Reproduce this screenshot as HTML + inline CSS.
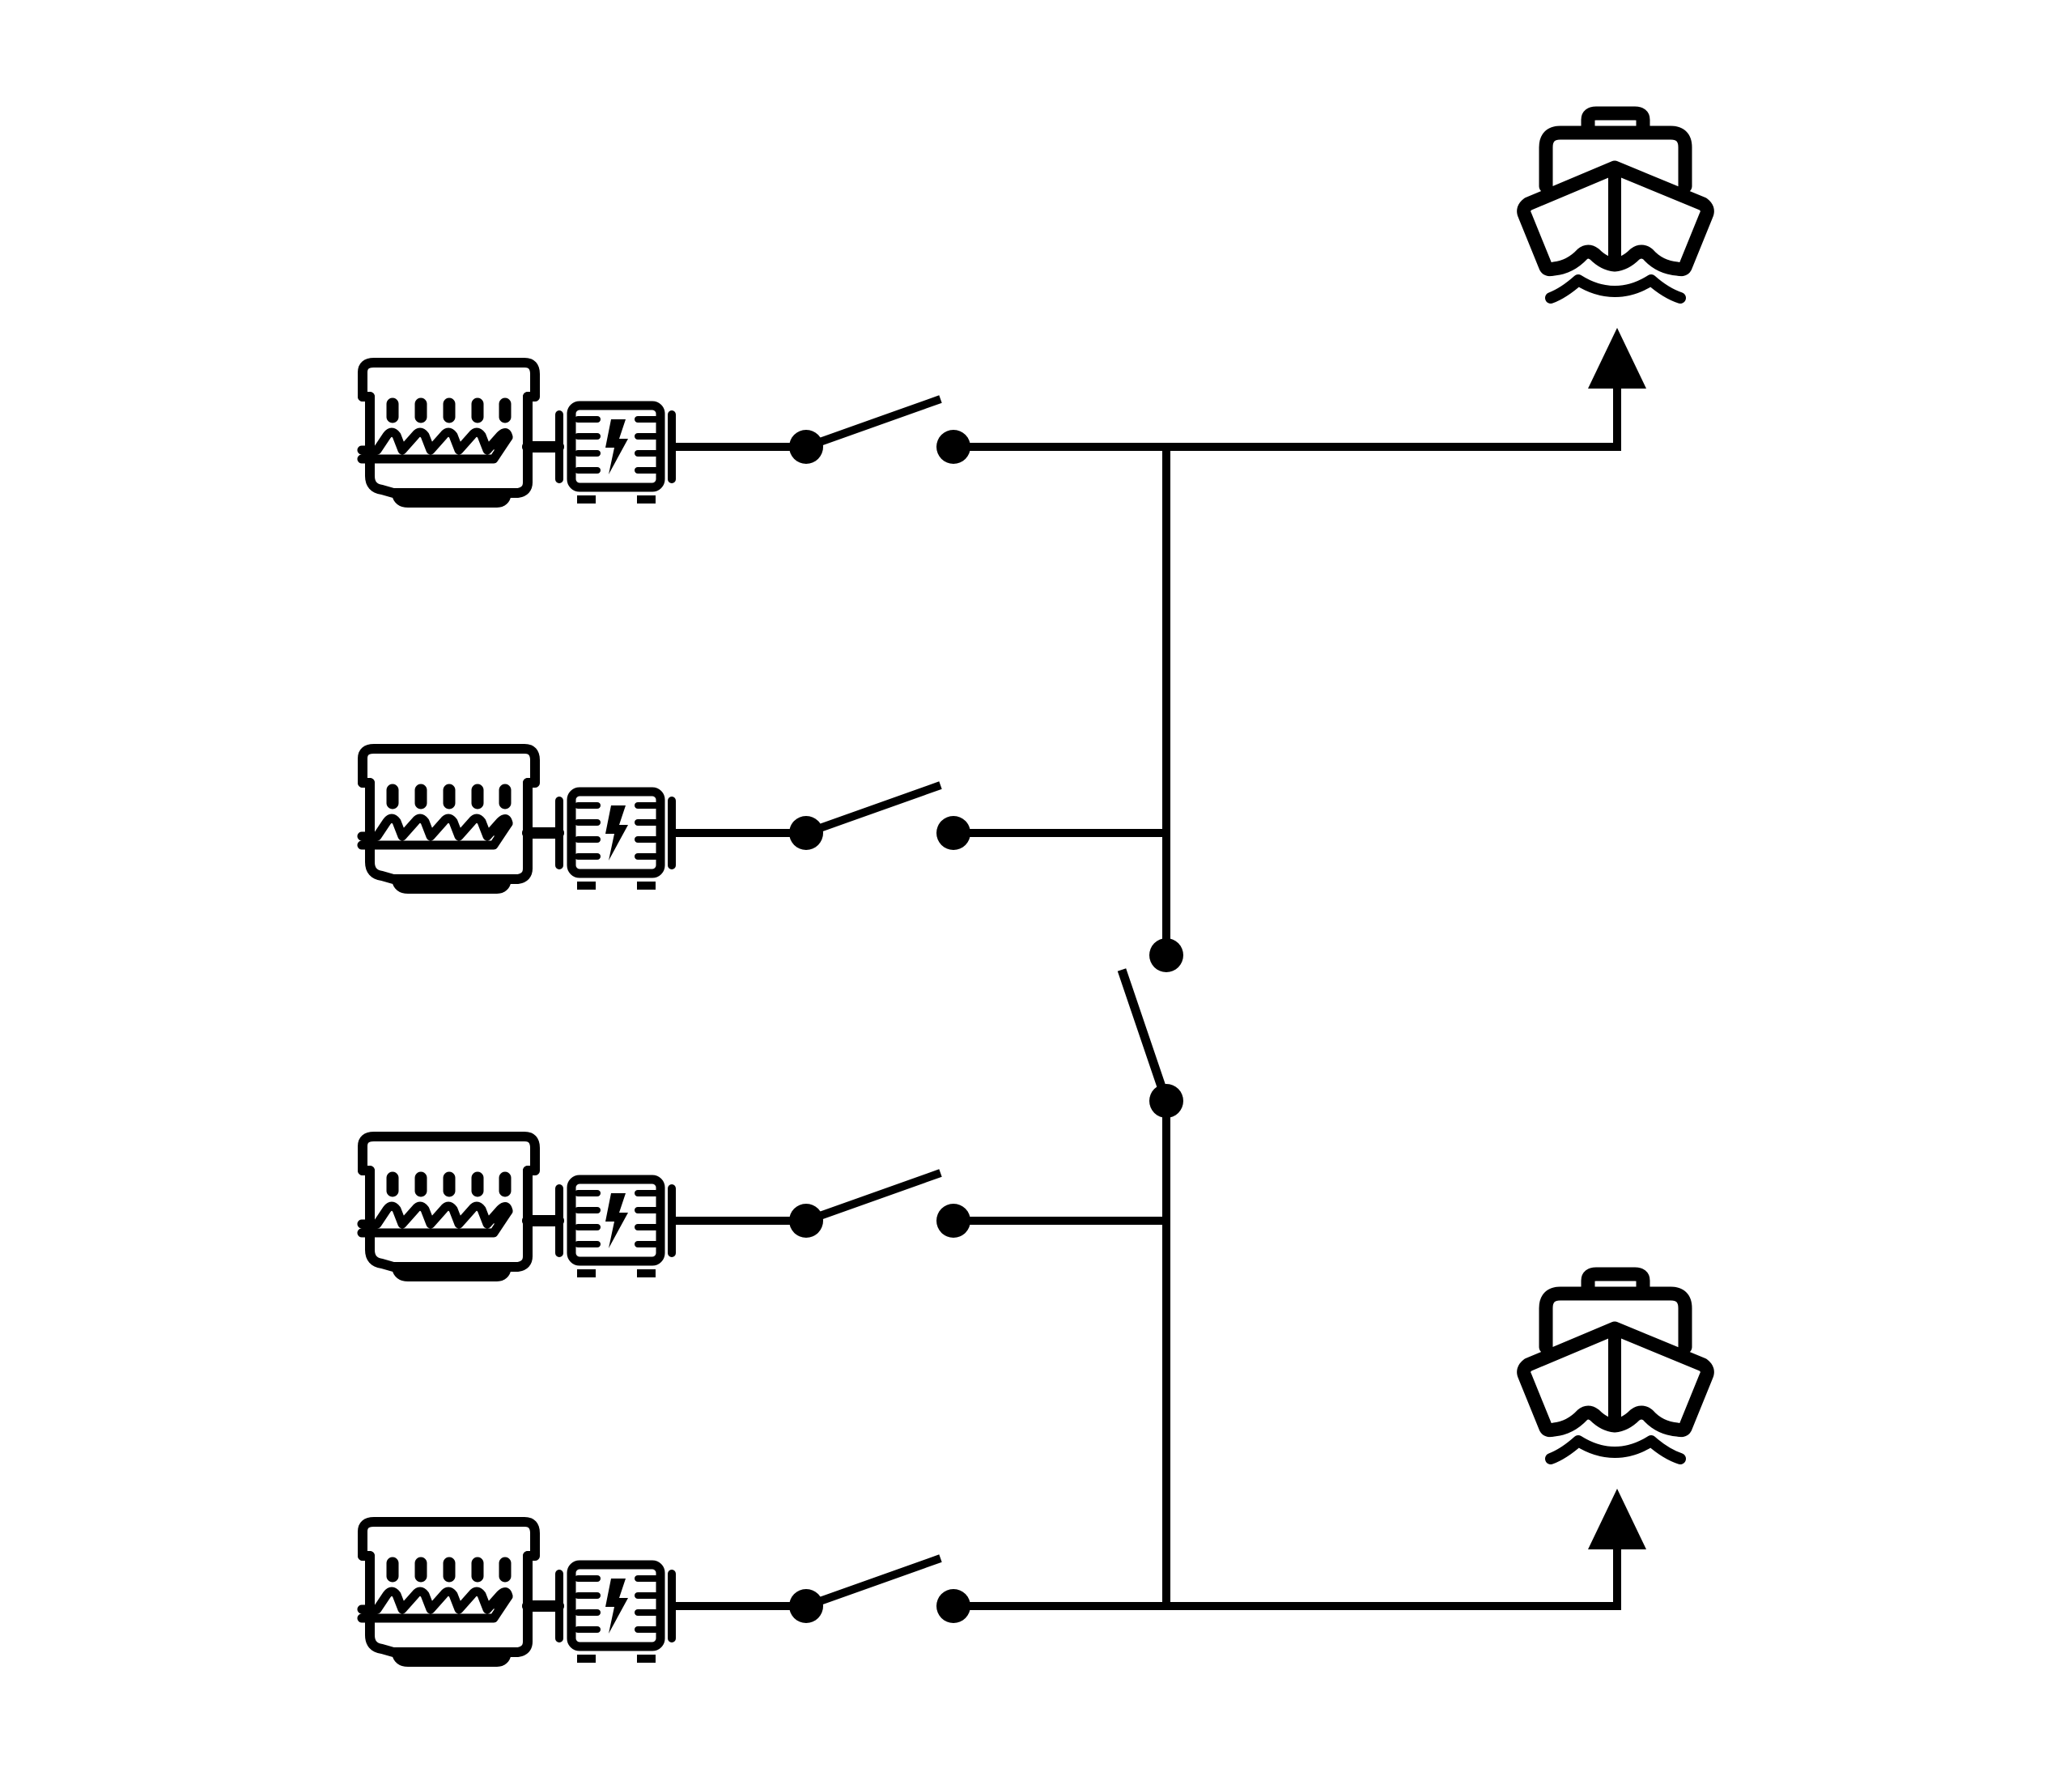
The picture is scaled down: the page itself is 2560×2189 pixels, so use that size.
<!DOCTYPE html>
<html><head><meta charset="utf-8"><style>html,body{margin:0;padding:0;background:#fff}svg{display:block}</style></head>
<body>
<svg width="2560" height="2189" viewBox="0 0 2560 2189" xmlns="http://www.w3.org/2000/svg">
<defs>
<g id="gen" fill="none" stroke="#000" stroke-width="12" stroke-linejoin="round" stroke-linecap="round">
  <path d="M448 490 V460 Q448 448 462 448 H648 Q661 448 661 462 V490 H652"/>
  <path d="M448 490 H457"/>
  <path d="M457 490 V588 Q457 603 472 605 L486 609 H640 Q652 607 652 596 V490"/>
  <path d="M490 610 Q492 621 504 621 H614 Q624 621 626 610"/>
  <g stroke-width="15" stroke-linecap="round">
    <line x1="485" y1="499" x2="485" y2="515"/>
    <line x1="520" y1="499" x2="520" y2="515"/>
    <line x1="555" y1="499" x2="555" y2="515"/>
    <line x1="590" y1="499" x2="590" y2="515"/>
    <line x1="624" y1="499" x2="624" y2="515"/>
  </g>
  <path d="M447 556 H466 L478 538 Q484 530 490 538 L497 556 L513 538 Q519 530 525 538 L532 556 L548 538 Q554 530 560 538 L567 556 L583 538 Q589 530 595 538 L602 556 L618 538 Q626 530 628 540 L616 556" stroke-width="11"/>
  <path d="M447 567 H610 L628 540" stroke-width="11"/>
  <line x1="652" y1="552" x2="690" y2="552" stroke-width="14"/>
  <rect x="706" y="501" width="110" height="101" rx="10" stroke-width="11"/>
  <path d="M691 512 V592 M830 512 V592" stroke-width="10"/>
  <g stroke-width="8">
    <line x1="714" y1="518" x2="738" y2="518"/><line x1="714" y1="539" x2="738" y2="539"/>
    <line x1="714" y1="560" x2="738" y2="560"/><line x1="714" y1="581" x2="738" y2="581"/>
    <line x1="788" y1="518" x2="810" y2="518"/><line x1="788" y1="539" x2="810" y2="539"/>
    <line x1="788" y1="560" x2="810" y2="560"/><line x1="788" y1="581" x2="810" y2="581"/>
  </g>
  <path d="M755 518 H773 L765 542 H776 L752 586 L759 553 H748 Z" fill="#000" stroke="none"/>
  <rect x="713" y="612" width="23" height="10" fill="#000" stroke="none"/>
  <rect x="787" y="612" width="23" height="10" fill="#000" stroke="none"/>
  <line x1="831" y1="552" x2="994" y2="552" stroke-width="10"/>
  <circle cx="996" cy="552" r="21" fill="#000" stroke="none"/>
  <line x1="996" y1="552" x2="1162" y2="493" stroke-width="10" stroke-linecap="butt"/>
  <circle cx="1178" cy="552" r="21" fill="#000" stroke="none"/>
</g>
<g id="ship" fill="none" stroke="#000" stroke-width="17" stroke-linejoin="round" stroke-linecap="round">
  <path d="M1962 160 V148 Q1962 140 1972 140 H2020 Q2030 140 2030 148 V160"/>
  <path d="M1910 230 V182 Q1910 164 1928 164 H2064 Q2082 164 2082 182 V230"/>
  <path d="M1995 207 L1888 252 Q1880 258 1884 266 L1910 330 Q1912 334 1920 332 Q1940 330 1955 314 Q1962 308 1970 314 Q1982 326 1995 327 Q2008 326 2020 314 Q2028 308 2036 314 Q2050 330 2072 332 Q2080 334 2082 330 L2108 266 Q2112 258 2104 252 Z"/>
  <line x1="1995" y1="210" x2="1995" y2="322" stroke-width="16"/>
  <path d="M1916 368 Q1932 362 1950 346 Q1972 360 1995 360 Q2018 360 2040 346 Q2058 362 2076 368" stroke-width="14"/>
</g>
</defs>
<use href="#gen" y="0"/>
<use href="#gen" y="477"/>
<use href="#gen" y="956"/>
<use href="#gen" y="1432"/>
<use href="#ship" y="0"/>
<use href="#ship" y="1434"/>
<g stroke="#000" stroke-width="10" fill="none">
  <polyline points="1178,552 1998,552 1998,478"/>
  <line x1="1178" y1="1029" x2="1443" y2="1029"/>
  <line x1="1178" y1="1508" x2="1443" y2="1508"/>
  <polyline points="1178,1984 1998,1984 1998,1912"/>
  <line x1="1441" y1="552" x2="1441" y2="1180"/>
  <line x1="1441" y1="1360" x2="1441" y2="1984"/>
  <line x1="1441" y1="1360" x2="1386" y2="1198" stroke-width="11"/>
</g>
<circle cx="1441" cy="1180" r="21" fill="#000"/>
<circle cx="1441" cy="1360" r="21" fill="#000"/>
<polygon points="1998,405 1962,480 2034,480" fill="#000"/>
<polygon points="1998,1839 1962,1914 2034,1914" fill="#000"/>
</svg>
</body></html>
